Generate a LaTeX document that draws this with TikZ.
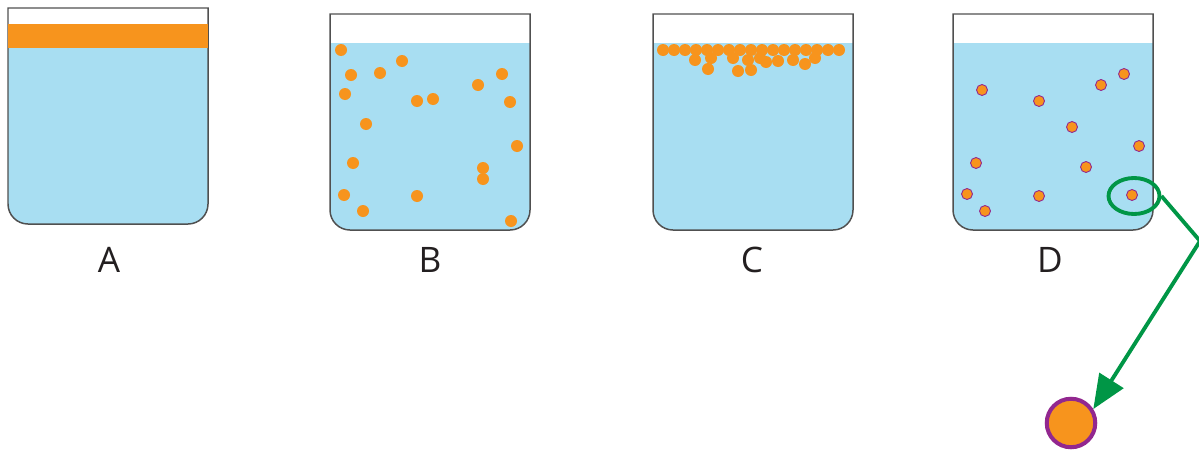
\documentclass[tikz,border=0pt]{standalone}
\usepackage{fontspec}
\setsansfont{Open Sans}
\usetikzlibrary{shapes.geometric,arrows.meta}
\definecolor{water}{RGB}{168,222,242}
\definecolor{oil}{RGB}{247,148,29}
\definecolor{rim}{RGB}{80,80,80}
\definecolor{grn}{RGB}{0,150,70}
\definecolor{purp}{RGB}{146,39,143}
\definecolor{ink}{RGB}{35,31,32}

% beaker: #1 left edge, #2 top edge, #3 water level (all in px, y downwards)
\newcommand{\beaker}[3]{%
  \fill[water] (#1,-#3) -- (#1,-#2-196) arc[start angle=180,end angle=270,radius=20]
    -- (#1+180,-#2-216) arc[start angle=270,end angle=360,radius=20] -- (#1+200,-#3) -- cycle;
  \draw[rim] (#1,-#2) -- (#1,-#2-196) arc[start angle=180,end angle=270,radius=20]
    -- (#1+180,-#2-216) arc[start angle=270,end angle=360,radius=20] -- (#1+200,-#2) -- cycle;
}

\begin{document}
\begin{tikzpicture}[x=0.02cm,y=0.02cm,
  rim/.style={draw=rim,line width=0.85pt},
  lbl/.style={font=\sffamily\fontsize{20}{24}\selectfont,text=ink,inner sep=0pt},
  dot/.style={fill=oil},
  pdot/.style={fill=oil,draw=purp,line width=0.5pt}]
\useasboundingbox (0,0) rectangle (1199,-453);

% A: oil layer on top
\beaker{8}{8}{48}
\fill[oil] (8.4,-24) rectangle (207.6,-48);
\node[lbl] (labA) at (109,-260) {A};

% B: droplets spread out
\beaker{330}{14}{43}
\foreach \x/\y in {341/50,351/75,380/73,402/61,345/94,417/101,433/99,478/85,502/74,
  510/102,366/124,517/146,353/163,483/168,483/179,344/195,417/196,363/211,511/221}
  \fill[dot] (\x,-\y) circle[radius=6];
\node[lbl] (labB) at (430,-260) {B};

% C: droplets gathered at the surface
\beaker{653}{14}{43}
\foreach \i in {0,...,16}
  \fill[dot] (663+11*\i,-50) circle[radius=6];
\foreach \x/\y in {695/60,711/58,733/58,748/60,760/58,766/62,778/61,793/60,805/64,815/58,
  708/69,738/71,751/70}
  \fill[dot] (\x,-\y) circle[radius=6];
\node[lbl] (labC) at (752,-260) {C};

% D: coated droplets
\beaker{953}{14}{43}
\foreach \x/\y in {982/90,1039/101,1101/85,1124/74,1072/127,1139/146,976/163,1086/167,
  967/194,1039/196,985/211,1132/195}
  \filldraw[pdot] (\x,-\y) circle[radius=5.5];
\node[lbl] (labD) at (1050,-260) {D};

% zoom on one droplet
\node[draw=grn,line width=2.2pt,ellipse,minimum width=1.02cm,minimum height=0.72cm,inner sep=0pt]
  (sel) at (1134,-196) {};
\node[circle,fill=oil,draw=purp,line width=2.3pt,minimum size=0.97cm,inner sep=0pt]
  (drop) at (1071,-423) {};
\coordinate (bend) at (1200,-241);
\draw[grn,line width=2.2pt,-{Triangle[length=0.68cm,width=0.56cm]}]
  (sel.east) -- (bend) -- (drop.32);
\end{tikzpicture}
\end{document}
